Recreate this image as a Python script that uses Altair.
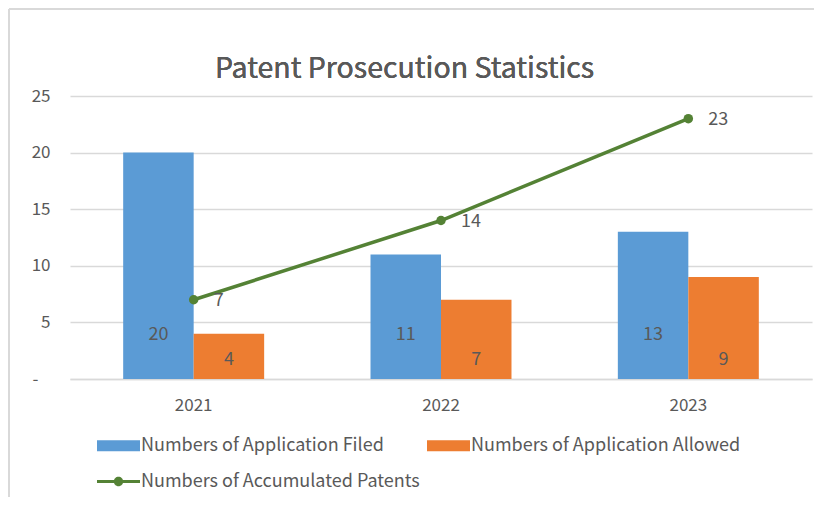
import altair as alt
import pandas as pd

years = ["2021", "2022", "2023"]
filed = [20, 11, 13]
allowed = [4, 7, 9]
accumulated = [7, 14, 23]

S_FILED = "Numbers of Application Filed"
S_ALLOWED = "Numbers of Application Allowed"
S_ACC = "Numbers of Accumulated Patents"
TITLE = "Patent Prosecution Statistics"

FONT = "Noto Sans CJK TC"
TXT = "#595959"
GRID = "#D9D9D9"
BLUE, ORANGE, GREEN = "#5B9BD5", "#ED7D31", "#548235"

bars = pd.DataFrame(
    [{"year": y, "series": S_FILED, "value": v} for y, v in zip(years, filed)]
    + [{"year": y, "series": S_ALLOWED, "value": v} for y, v in zip(years, allowed)]
)
line = pd.DataFrame({"year": years, "series": S_ACC, "value": accumulated})

xscale = alt.Scale(paddingInner=0.43, paddingOuter=0.215)
x = alt.X("year:N", scale=xscale, sort=years,
          axis=alt.Axis(title=None, labelAngle=0, labelFont=FONT, labelFontSize=17,
                        labelColor=TXT, labelPadding=18, ticks=False,
                        domainColor=GRID, domainWidth=1.5))
yscale = alt.Scale(domain=[0, 25], nice=False, zero=True)
y = alt.Y("value:Q", scale=yscale,
          axis=alt.Axis(title=None, values=[0, 5, 10, 15, 20, 25],
                        labelExpr="datum.value == 0 ? '-' : datum.label",
                        labelFont=FONT, labelFontSize=17, labelColor=TXT,
                        labelPadding={"condition": {"test": "datum.value == 0", "value": 32}, "value": 20},
                        ticks=False, domain=False, gridColor=GRID, gridWidth=1.5))
ybase = alt.YDatum(0, scale=yscale)

xoff_scale = alt.Scale(domain=[S_FILED, S_ALLOWED], paddingInner=0, paddingOuter=0)

bar_legend = alt.Legend(
    title=None, orient="none", legendX=27, legendY=328, direction="horizontal",
    symbolType="M-1,-0.26H1V0.26H-1Z", symbolSize=1849, symbolStrokeWidth=0,
    labelFont=FONT, labelFontSize=18, labelColor=TXT, labelOffset=1,
    columnPadding=43, padding=0, labelLimit=400,
)
bar_layer = alt.Chart(bars).mark_bar().encode(
    x=x, y=y,
    xOffset=alt.XOffset("series:N", scale=xoff_scale, sort=[S_FILED, S_ALLOWED]),
    color=alt.Color("series:N", scale=alt.Scale(domain=[S_FILED, S_ALLOWED], range=[BLUE, ORANGE]),
                    legend=bar_legend),
)

lbl_filed = alt.Chart(bars).transform_filter(alt.datum.series == S_FILED).mark_text(
    font=FONT, fontSize=18, color=TXT, dy=-44).encode(
    x=alt.X("year:N", scale=xscale, sort=years),
    xOffset=alt.XOffset("series:N", scale=xoff_scale, sort=[S_FILED, S_ALLOWED]),
    y=ybase, text="value:Q")
lbl_allowed = alt.Chart(bars).transform_filter(alt.datum.series == S_ALLOWED).mark_text(
    font=FONT, fontSize=18, color=TXT, dy=-19).encode(
    x=alt.X("year:N", scale=xscale, sort=years),
    xOffset=alt.XOffset("series:N", scale=xoff_scale, sort=[S_FILED, S_ALLOWED]),
    y=ybase, text="value:Q")

line_layer = alt.Chart(line).mark_line(color=GREEN, strokeWidth=3.5).encode(
    x=alt.X("year:N", scale=xscale, sort=years), y=alt.Y("value:Q", scale=yscale))

line_legend = alt.Legend(
    title=None, orient="none", legendX=27, legendY=364, direction="horizontal",
    symbolType="M-1,-0.075H1V0.075H-1Z M-0.22,0A0.22,0.22 0 1,1 0.22,0A0.22,0.22 0 1,1 -0.22,0Z",
    symbolSize=1849, symbolStrokeWidth=0,
    labelFont=FONT, labelFontSize=18, labelColor=TXT, labelOffset=1, padding=0, labelLimit=400,
)
point_layer = alt.Chart(line).mark_point(filled=True, size=90, opacity=1).encode(
    x=alt.X("year:N", scale=xscale, sort=years), y=alt.Y("value:Q", scale=yscale),
    color=alt.Color("series:N", scale=alt.Scale(domain=[S_ACC], range=[GREEN]), legend=line_legend),
)
line_labels = alt.Chart(line).mark_text(
    font=FONT, fontSize=18, color=TXT, align="left", dx=20, dy=1).encode(
    x=alt.X("year:N", scale=xscale, sort=years), y=alt.Y("value:Q", scale=yscale), text="value:Q")

frame_left = alt.Chart(line).mark_rule(color=GRID, strokeWidth=1.5).encode(
    x=alt.value(-61), y=alt.value(-87), y2=alt.value(420))
frame_top = alt.Chart(line).mark_rule(color=GRID, strokeWidth=1.5).encode(
    x=alt.value(-61), x2=alt.value(760), y=alt.value(-87))

title_layer = alt.Chart(line).mark_text(
    font=FONT, fontSize=28.5, color=TXT, align="center", baseline="middle").encode(
    x=alt.value(334.5), y=alt.value(-27), text=alt.value(TITLE))

chart = alt.layer(
    frame_left, frame_top, title_layer, bar_layer, lbl_filed, lbl_allowed,
    line_layer, point_layer, line_labels
).resolve_scale(color="independent").properties(
    width=742, height=283,
    autosize=alt.AutoSizeParams(type="none"),
    padding={"left": 62, "top": 88, "right": 2, "bottom": 118},
).configure_view(stroke=None)

chart.save("out.html", embed_options={"renderer": "svg", "actions": False})
